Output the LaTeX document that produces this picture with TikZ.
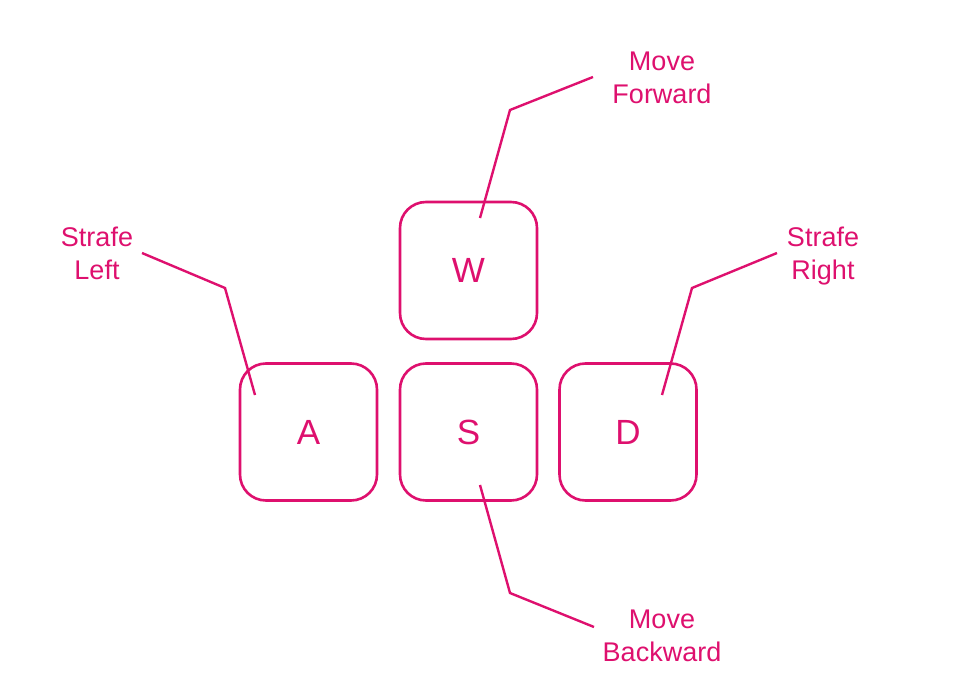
\documentclass[tikz,border=0pt]{standalone}
\usepackage{fontspec}
\setmainfont{Liberation Sans}
\definecolor{keypink}{RGB}{222,16,110}
\begin{document}
\begin{tikzpicture}[x=1pt,y=-1pt,
  keybox/.style={draw=keypink, line width=2.6pt, rounded corners=26pt,
    minimum width=137pt, minimum height=137pt, inner sep=0pt,
    text=keypink, font=\fontsize{35}{40}\selectfont},
  keylabel/.style={text=keypink, align=center, inner sep=0pt,
    font=\fontsize{27}{33}\selectfont},
  leader/.style={draw=keypink, line width=2.4pt, line join=miter}]
\useasboundingbox (0,0) rectangle (976,700);
% keys
\node[keybox] (W) at (468.5,270.5) {W};
\node[keybox] (A) at (308.5,432) {A};
\node[keybox] (S) at (468.5,432) {S};
\node[keybox] (D) at (628,432) {D};
% labels
\node[keylabel] (lw) at (662,78) {Move\\Forward};
\node[keylabel] (la) at (97,253) {Strafe\\Left};
\node[keylabel] (ld) at (823,256) {Strafe\\Right};
\node[keylabel] (ls) at (662,636) {Move\\Backward};
% leader end points
\coordinate (wend) at (480,218);
\coordinate (wbend) at (510,110);
\coordinate (wstart) at (593,77);
\coordinate (aend) at (255,395);
\coordinate (abend) at (225,288);
\coordinate (astart) at (142,253);
\coordinate (dend) at (662,395);
\coordinate (dbend) at (692,288);
\coordinate (dstart) at (777,253);
\coordinate (send) at (480,485);
\coordinate (sbend) at (510,593);
\coordinate (sstart) at (594,627);
\draw[leader] (wstart) -- (wbend) -- (wend);
\draw[leader] (astart) -- (abend) -- (aend);
\draw[leader] (dstart) -- (dbend) -- (dend);
\draw[leader] (sstart) -- (sbend) -- (send);
\end{tikzpicture}
\end{document}
